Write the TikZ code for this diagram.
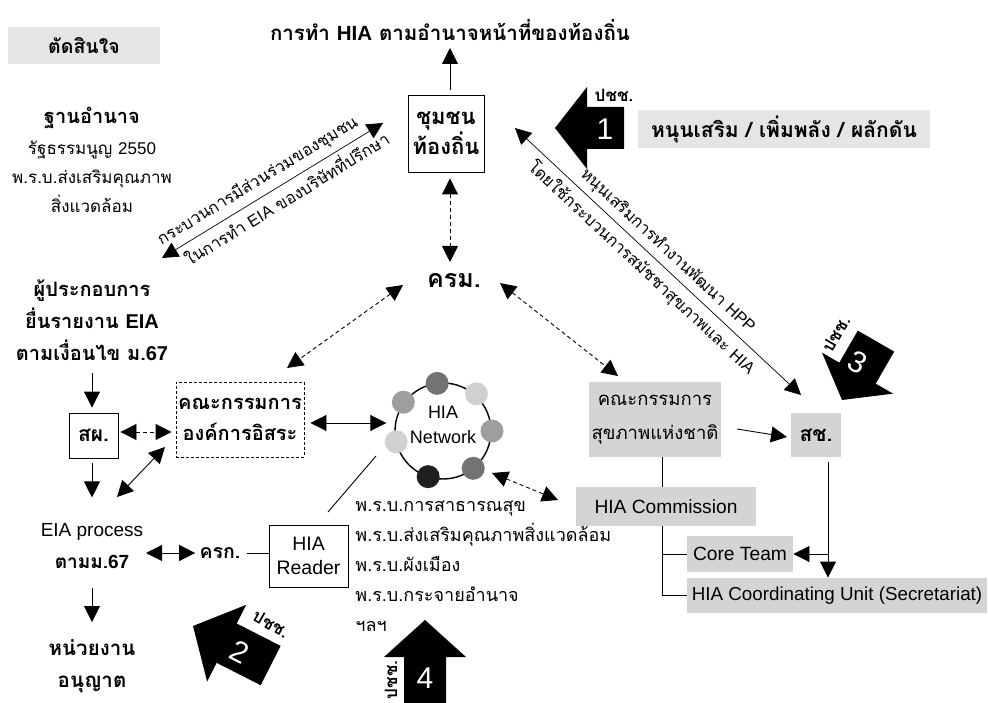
\documentclass[tikz,border=0pt]{standalone}
\usepackage{fontspec}
\setmainfont{Loma}[Script=Thai]
\newfontfamily\latfont{Liberation Sans}
\usetikzlibrary{arrows.meta,calc}
\newcommand\la[1]{{\latfont #1}}
\newcommand\fz[2]{\fontsize{#1}{#2}\selectfont}
\definecolor{boxG}{gray}{0.83}
\definecolor{boxL}{gray}{0.90}
\definecolor{dotL}{gray}{0.82}
\definecolor{dotM}{gray}{0.62}
\definecolor{dotD}{gray}{0.45}
\definecolor{dotK}{gray}{0.12}
% block arrow: tip x, tip y, direction, head length, shaft length, scale
\newcommand\bigarrow[6]{%
  \begin{scope}[shift={(#1,#2)},rotate=#3,scale=#6]
    \fill[black] (0,0) -- (-#4,-41) -- (-#4,-21) -- ({-#4-#5},-21)
      -- ({-#4-#5},21) -- (-#4,21) -- (-#4,41) -- cycle;
  \end{scope}}
\begin{document}
\begin{tikzpicture}[x=1pt,y=-1pt,
  >={Triangle[length=16pt,width=16pt]},
  line width=0.9pt,
  base/.style={inner sep=0pt, align=center},
  t18/.style={base, font=\fz{18}{30}},
  b20/.style={base, font=\bfseries\fz{20}{30}},
  wbox/.style={draw, line width=0.9pt},
  dbox/.style={draw, line width=0.9pt, dash pattern=on 3pt off 2pt},
  gbox/.style={fill=boxG},
  dsh/.style={dash pattern=on 4pt off 3pt},
  num/.style={text=white, font=\latfont\fz{30}{30}, inner sep=0pt},
  ppl/.style={fill=white, inner sep=1pt, font=\bfseries\fz{17}{18}},
  slab/.style={sloped, font=\fz{16.5}{18}},
]
\useasboundingbox (0,0) rectangle (988,703);

% ---- top left: decision and legal basis
\node[fill=boxL, base, minimum width=152, minimum height=37, font=\bfseries\fz{19.5}{22}] (decide) at (84,45.5) {ตัดสินใจ};
\node[b20] (power) at (92,118) {ฐานอำนาจ};
\node[t18, font=\fz{17}{29}] (basis) at (92,177) {รัฐธรรมนูญ \la{2550}\\พ.ร.บ.ส่งเสริมคุณภาพ\\สิ่งแวดล้อม};

% ---- community and cabinet
\node[base, font=\bfseries\fz{20.5}{24}] (title) at (450,30) {การทำ \la{HIA} ตามอำนาจหน้าที่ของท้องถิ่น};
\node[wbox, base, minimum width=76, minimum height=77, font=\bfseries\fz{22}{30}] (cm) at (446,133.5) {ชุมชน\\ท้องถิ่น};
\node[base, font=\bfseries\fz{25}{28}] (krm) at (454,281) {ครม.};
\node[fill=boxL, base, minimum width=292, minimum height=38, font=\bfseries\fz{21}{24}] (push) at (784,129) {หนุนเสริม / เพิ่มพลัง / ผลักดัน};

% ---- left column: EIA track
\node[base, font=\bfseries\fz{20}{32}] (op) at (92,320) {ผู้ประกอบการ\\ยื่นรายงาน \la{EIA}\\ตามเงื่อนไข ม.\la{67}};
\node[wbox, base, minimum width=49, minimum height=45, font=\bfseries\fz{21}{24}] (sp) at (93.5,435.5) {สผ.};
\node[dbox, base, minimum width=128, minimum height=75, font=\bfseries\fz{20}{31}] (ind) at (240,419.5) {คณะกรรมการ\\องค์การอิสระ};
\node[base, font=\fz{19}{32}] (eia) at (92,546) {\la{EIA process}\\{\bfseries ตามม.\la{67}}};
\node[base, font=\bfseries\fz{20.5}{32}] (permit) at (92,666) {หน่วยงาน\\อนุญาต};
\node[base, font=\bfseries\fz{19.5}{24}] (krk) at (220,553) {ครก.};
\node[wbox, base, minimum width=79, minimum height=62, font=\latfont\fz{19.5}{24}] (reader) at (308.5,556) {HIA\\Reader};
\node[base, anchor=west, align=left, font=\fz{18}{30}] (laws) at (355,566) {พ.ร.บ.การสาธารณสุข\\พ.ร.บ.ส่งเสริมคุณภาพสิ่งแวดล้อม\\พ.ร.บ.ผังเมือง\\พ.ร.บ.กระจายอำนาจ\\ฯลฯ};

% ---- HIA network ring
\node[circle, draw, line width=1.4pt, minimum size=96, inner sep=0pt] (net) at (443,431) {};
\fill[dotD] ($(net.center)+(-97:48)$) circle (11.5);
\fill[dotL] ($(net.center)+(-48:50)$) circle (11.5);
\fill[dotM] ($(net.center)+(0:49)$) circle (11.5);
\fill[dotD] ($(net.center)+(51:48)$) circle (11.5);
\fill[dotK] ($(net.center)+(108:48)$) circle (11.5);
\fill[dotL] ($(net.center)+(167:48)$) circle (11.5);
\fill[dotM] ($(net.center)+(216:49)$) circle (11.5);
\node[base, font=\latfont\fz{18}{25}] (netlbl) at (443,424.5) {HIA\\Network};

% ---- right side: national bodies
\node[gbox, base, minimum width=132, minimum height=75, font=\fz{18.5}{34}] (nhc) at (655,419.5) {คณะกรรมการ\\สุขภาพแห่งชาติ};
\node[gbox, base, minimum width=50, minimum height=44, font=\bfseries\fz{21}{24}] (sch) at (816,435) {สช.};
\node[gbox, base, minimum width=180, minimum height=39, font=\latfont\fz{19.2}{22}] (hiac) at (666,506.5) {HIA Commission};
\node[gbox, base, minimum width=106, minimum height=36, font=\latfont\fz{19.2}{22}] (core) at (740,554) {Core Team};
\node[gbox, base, minimum width=300, minimum height=35, font=\latfont\fz{18.8}{22}] (coord) at (837,595.5) {HIA Coordinating Unit (Secretariat)};

% ---- connector end points
\coordinate (ti) at (450,48);
\coordinate (krmN) at (450,262);
\coordinate (krmW) at (403,285);
\coordinate (indNE) at (287,368);
\coordinate (krmE) at (500,283);
\coordinate (nhcN) at (618,376);
\coordinate (cmW) at (383,123);
\coordinate (opNE) at (162,258);
\coordinate (cmE) at (515,128);
\coordinate (schN) at (801,395);
\coordinate (eiaNE) at (117,497);
\coordinate (indSW) at (165,447);
\coordinate (eiaS) at (92,588);
\coordinate (permN) at (92,622);
\coordinate (eiaE) at (146,553);
\coordinate (rdNE) at (328,512);
\coordinate (netSW) at (376,456);
\coordinate (netSE) at (492,473);
\coordinate (hiacW) at (558,500);
\coordinate (nhcE) at (737,429);
\coordinate (schW) at (787,437);
\coordinate (trunk) at ($(hiac.south)+(-4,0)$);
\coordinate (schS) at ($(sch.south)+(12,5)$);

% ---- connectors
\draw[->] ($(cm.north)+(4,-5)$) -- (ti);
\draw[<->, dsh] ($(cm.south)+(4,6)$) -- (krmN);
\draw[<->, dsh] (krmW) -- (indNE);
\draw[<->, dsh] (krmE) -- (nhcN);
\draw[<->, line width=0.7pt] (opNE) --
  node[slab, above, inner sep=6pt, pos=.47] (pa) {กระบวนการมีส่วนร่วมของชุมชน}
  node[slab, below, inner sep=4pt, pos=.53] (pb) {ในการทำ \la{EIA} ของบริษัทที่ปรึกษา} (cmW);
\draw[<->, line width=0.7pt] (cmE) --
  node[slab, above, inner sep=5pt, pos=.5] (pc) {หนุนเสริมการทำงานพัฒนา \la{HPP}}
  node[slab, below, inner sep=6pt, pos=.48] (pd) {โดยใช้กระบวนการสมัชชาสุขภาพและ \la{HIA}} (schN);

\draw[->] ($(sp.north)+(-1.5,-40)$) -- ($(sp.north)+(-1.5,-5)$);
\draw[<->, dsh] ($(sp.east)+(2,-3.5)$) -- ($(ind.west |- sp.east)+(-4,-3.5)$);
\draw[<->] ($(ind.east)+(6,3.5)$) -- ($(net.west)+(-8,-8)$);
\draw[->] ($(sp.south)+(-1.5,5)$) -- ($(sp.south)+(-1.5,39)$);
\draw[<->] (eiaNE) -- (indSW);
\draw[->] (eiaS) -- (permN);
\draw[<->] (eiaE) -- ($(krk.west)+(-4,0)$);
\draw ($(krk.east)+(6,0)$) -- (reader.west |- krk.east);
\draw (rdNE) -- (netSW);
\draw[<->, dsh] (netSE) -- (hiacW);

\draw[->] (nhcE) -- (schW);
\draw ($(nhc.south)+(7,0)$) -- ($(hiac.north)+(-4,0)$);
\draw (trunk) |- (coord.west);
\draw (trunk |- core.west) -- (core.west);
\draw[->] (schS) -- (schS |- coord.north);
\draw[->] (schS |- core.east) -- (core.east);

% ---- people's push arrows
\bigarrow{555}{128}{180}{32}{37}{1}
\node[num] (n1) at (605,129) {1};
\node[ppl] (p1) at (614,95) {ปชช.};

\bigarrow{193}{626}{153}{36}{47}{1.05}
\node[num, rotate=-27] (n2) at (240,652) {2};
\node[ppl, rotate=-30] (p2) at (271,624) {ปชช.};

\bigarrow{842}{400}{240}{31}{37}{1}
\node[num, rotate=-28] (n3) at (858,362) {3};
\node[ppl, rotate=60] (p3) at (836,334) {ปชช.};

\bigarrow{425}{620}{90}{37}{50}{1}
\node[num] (n4) at (425,678) {4};
\node[ppl, rotate=90] (p4) at (391,680) {ปชช.};
\end{tikzpicture}
\end{document}
